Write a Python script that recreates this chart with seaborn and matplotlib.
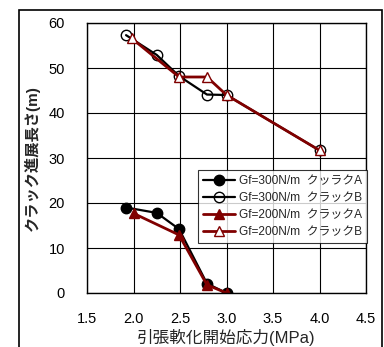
import matplotlib
matplotlib.use("Agg")
import matplotlib.pyplot as plt
from matplotlib.patches import Rectangle
import seaborn as sns
import pandas as pd

sns.set_theme(style="white")
plt.rcParams['font.family'] = ['Liberation Sans', 'Noto Sans CJK JP']

# Crack length vs. tension softening start stress
x_300 = [1.92, 2.25, 2.49, 2.79, 3.00]
crack_a_300 = [19.0, 17.8, 14.2, 2.1, 0.0]
x_300_b = [1.92, 2.25, 2.49, 2.79, 3.00, 4.00]
crack_b_300 = [57.3, 52.9, 48.2, 44.1, 44.0, 31.7]
x_200 = [2.00, 2.49, 2.79, 3.00]
crack_a_200 = [17.7, 12.9, 1.8, 0.0]
x_200_b = [1.98, 2.49, 2.79, 3.00, 4.00]
crack_b_200 = [56.6, 48.0, 48.0, 44.0, 31.7]

labels = ["Gf=300N/m  クッラクA", "Gf=300N/m  クラックB",
          "Gf=200N/m  クラックA", "Gf=200N/m  クラックB"]
x_ticks = [1.5, 2.0, 2.5, 3.0, 3.5, 4.0, 4.5]
y_ticks = [0, 10, 20, 30, 40, 50, 60]

fig = plt.figure(figsize=(3.84, 3.47), dpi=100)
ax = fig.add_axes([87/384, 1 - 293/347, (366-87)/384, (293-23)/347])

# outer frame around the chart
fig.patches.append(Rectangle((19/384, -0.05), (382-19)/384, 1 - 10/347 + 0.05,
                             transform=fig.transFigure, fill=False,
                             edgecolor="black", lw=1.2, zorder=0))

dark_red = "#800000"
series = [
    (x_300, crack_a_300, labels[0], "black", "o", "black", 1.6),
    (x_300_b, crack_b_300, labels[1], "black", "o", "none", 1.6),
    (x_200, crack_a_200, labels[2], dark_red, "^", dark_red, 2.0),
    (x_200_b, crack_b_200, labels[3], dark_red, "^", "white", 2.0),
]
for xs, ys, lab, col, mk, fc, lw in series:
    df = pd.DataFrame({"x": xs, "y": ys})
    sns.lineplot(data=df, x="x", y="y", ax=ax, sort=False, color=col,
                 lw=lw, marker=mk, markersize=7.5, markerfacecolor=fc,
                 markeredgecolor=col, markeredgewidth=1.0, label=lab,
                 estimator=None)

ax.set_xlim(1.5, 4.5)
ax.set_ylim(0, 60)
ax.set_xticks(x_ticks)
ax.set_yticks(y_ticks)
ax.set_xticklabels([f"{v:.1f}" for v in x_ticks])
ax.grid(True, color="black", lw=0.8)
ax.set_axisbelow(True)
for s in ax.spines.values():
    s.set_color("black")
    s.set_linewidth(1.0)
ax.tick_params(axis="y", length=0, labelsize=10.5, colors="black", pad=16)
ax.tick_params(axis="x", length=0, labelsize=10.5, colors="black", pad=14)

ax.set_xlabel("引張軟化開始応力(MPa)", fontsize=12, labelpad=2)
ax.set_ylabel("クラック進展長さ(m)", fontsize=11, labelpad=6, fontweight="bold")

leg = ax.legend(loc="upper left", bbox_to_anchor=((198-87)/(366-87), 1 - (170-23)/(293-23)),
                fontsize=8.6, frameon=True, fancybox=False, borderpad=0.4,
                labelspacing=0.42, handlelength=2.7, handletextpad=0.35,
                borderaxespad=0)
leg.get_frame().set_edgecolor("black")
leg.get_frame().set_linewidth(0.8)

fig.savefig("out.png", dpi=100)
